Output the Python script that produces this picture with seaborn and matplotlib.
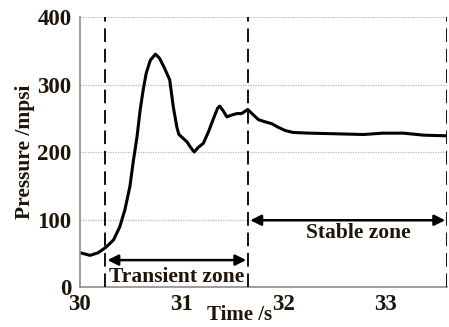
import matplotlib
matplotlib.use("Agg")
import matplotlib.pyplot as plt
import seaborn as sns
import pandas as pd

# pressure trace
time_s = [30.00, 30.10, 30.18, 30.255, 30.33, 30.39, 30.44, 30.49, 30.52, 30.56,
          30.59, 30.62, 30.65, 30.69, 30.74, 30.78, 30.83, 30.88, 30.915, 30.95,
          30.97, 31.00, 31.05, 31.08, 31.12, 31.16, 31.21, 31.26, 31.31, 31.35,
          31.37, 31.405, 31.44, 31.49, 31.54, 31.585, 31.645, 31.70, 31.75, 31.81,
          31.88, 31.94, 32.01, 32.09, 32.25, 32.52, 32.78, 32.97, 33.17, 33.37, 33.60]
pressure_mpsi = [51, 47, 51, 59, 70, 89, 114, 149, 183, 223,
                 262, 292, 317, 336, 345, 339, 324, 307, 267, 237,
                 226, 222, 215, 208, 200, 207, 213, 230, 250, 265,
                 268, 261, 252, 255, 257, 257, 263, 255, 248, 245,
                 242, 237, 232, 229, 228, 227, 226, 228, 228, 225, 224]

zone_bounds = [30.25, 31.65, 33.6]
zone_names = ["Transient zone", "Stable zone"]
arrow_levels = [40, 99]
label_levels = [15, 80]

df = pd.DataFrame({"Time /s": time_s, "Pressure /mpsi": pressure_mpsi})

sns.set_theme(style="white")
plt.rcParams["font.family"] = ["Liberation Serif", "DejaVu Serif"]
plt.rcParams["font.weight"] = "bold"

ink = "#1e1408"
fig = plt.figure(figsize=(4.49, 3.27), dpi=100)
ax = fig.add_axes([0.178, 0.122, 0.818, 0.826])

ax.yaxis.grid(True, linestyle=(0, (1, 1)), color="#b8b8b8", linewidth=0.9)
ax.set_axisbelow(True)

sns.lineplot(data=df, x="Time /s", y="Pressure /mpsi", ax=ax, color="black",
             linewidth=2.2, sort=False)

for xb in zone_bounds:
    ax.axvline(xb, color="#111111", linestyle=(0, (7, 3.5)), linewidth=1.4, zorder=3)

for i, name in enumerate(zone_names):
    x0, x1 = zone_bounds[i], zone_bounds[i + 1]
    ax.annotate("", xy=(x0 + 0.02, arrow_levels[i]), xytext=(x1 - 0.02, arrow_levels[i]),
                arrowprops=dict(arrowstyle="<|-|>", color="black", lw=1.8,
                                mutation_scale=16, shrinkA=0, shrinkB=0))
    ax.text((x0 + x1) / 2 + (0.0 if i == 0 else 0.1), label_levels[i], name,
            ha="center", va="center", fontsize=15.5, fontweight="bold", color=ink)

ax.set_xlim(30, 33.6)
ax.set_ylim(0, 400)
ax.set_xticks([30, 31, 32, 33])
ax.set_yticks([0, 100, 200, 300, 400])

for side in ["top", "right"]:
    ax.spines[side].set_visible(False)
for side in ["left", "bottom"]:
    ax.spines[side].set_color("#8c8c8c")
    ax.spines[side].set_linewidth(1.2)

ax.tick_params(axis="both", colors="#8c8c8c", length=4, width=1.2,
               direction="out", labelcolor=ink, labelsize=16.5, pad=2)
ax.tick_params(axis="x", pad=1)
for lab in ax.get_xticklabels() + ax.get_yticklabels():
    lab.set_fontweight("bold")

ax.set_xlabel("Time /s", fontsize=15, fontweight="bold", color=ink)
ax.xaxis.set_label_coords(0.435, -0.065, transform=ax.transAxes)
ax.set_ylabel("Pressure /mpsi", fontsize=15.5, fontweight="bold", color=ink, labelpad=2)

fig.savefig("out.png", dpi=100)
